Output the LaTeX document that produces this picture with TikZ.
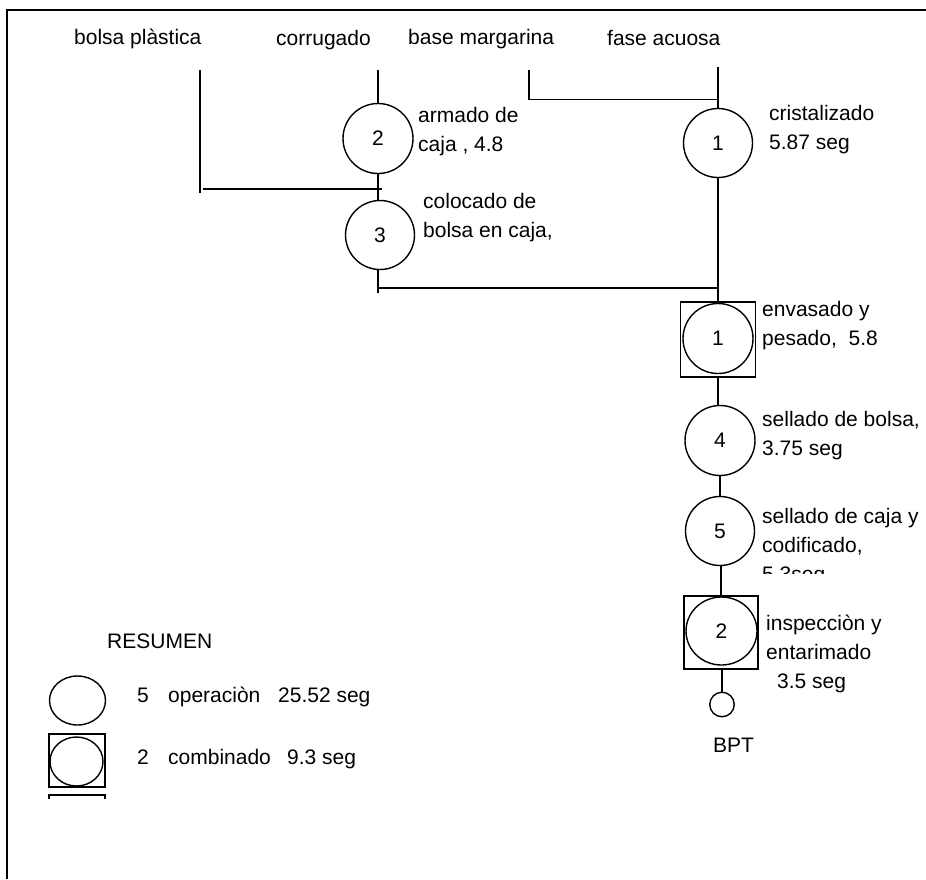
\documentclass[tikz,border=0pt]{standalone}
\usepackage{fontspec}
\setmainfont{Liberation Sans}
\usetikzlibrary{shapes.geometric}
\begin{document}
\begin{tikzpicture}[x=1pt,y=-1pt,
  txt/.style={font=\fontsize{21}{29}\selectfont, inner sep=0pt, align=left},
  lbl/.style={txt, anchor=base west},
  op/.style={circle, draw, line width=1.4pt, minimum size=70pt, inner sep=0pt, font=\fontsize{21}{25}\selectfont},
  sqbox/.style={rectangle, draw, line width=1.4pt, minimum size=75pt, inner sep=0pt},
  conn/.style={line width=1.6pt},
  frame/.style={line width=1.4pt}]
\useasboundingbox (0,0) rectangle (926,879);
\draw[frame] (926,10) -- (7,10) -- (7,879);

% top labels
\node[lbl] (tbolsa) at (74,44) {bolsa plàstica};
\node[lbl] (tcorr) at (276,45) {corrugado};
\node[lbl] (tbase) at (408,44) {base margarina};
\node[lbl] (tfase) at (607,45) {fase acuosa};

% left chain
\node[op] (c2) at (378,138.5) {2};
\node[op, minimum size=69pt] (c3) at (380,235) {3};
\coordinate (corrtop) at (378,70);
\coordinate (bolsatop) at (200,70);
\coordinate (bolsabot) at (200,193);
\coordinate (bolsaH) at (203,189);
\coordinate (bolsaHend) at (382,189);
\coordinate (c3bot) at (378,293);
\coordinate (joinL) at (378,288);

% right chain
\node[op, minimum size=69pt] (c1) at (718,143) {1};
\node[sqbox] (s1) at (718,339.5) {};
\node[op] (s1c) at (718,338.5) {1};
\node[op] (c4) at (720,440.5) {4};
\node[op, minimum size=69pt] (c5) at (720,531) {5};
\node[sqbox, minimum width=74pt, minimum height=73pt] (s2) at (721,632.5) {};
\node[op, ellipse, minimum width=71pt, minimum height=68pt] (s2c) at (721.5,631) {2};
\node[circle, draw, line width=1.4pt, minimum size=24.5pt, inner sep=0pt] (bpt) at (722,704.5) {};
\coordinate (fasetop) at (718,67);
\coordinate (basetop) at (529,70);
\coordinate (baseH) at (529,99.5);
\coordinate (joinR) at (718,288);

% connectors
\draw[conn] (bolsatop) -- (bolsabot);
\draw[conn] (bolsaH) -- (bolsaHend);
\draw[conn] (corrtop) -- (c2.north);
\draw[conn] (c2.south) -- (c2.south |- c3.north);
\draw[conn] (c3.south -| c2.south) -- (c3bot);
\draw[conn] (joinL) -- (joinR);
\draw[conn] (basetop) -- (baseH) -- (baseH -| fasetop);
\draw[conn] (fasetop) -- (c1.north);
\draw[conn] (c1.south) -- (s1.north);
\draw[conn] (s1.south) -- (s1.south |- c4.north);
\draw[conn] (c4.south) -- (c4.south |- c5.north);
\draw[conn] (c5.south -| s2.north) -- (s2.north);
\draw[conn] (s2.south -| bpt.north) -- (bpt.north);

% step labels (anchor = baseline of last line)
\node[lbl] (l2) at (418,151) {armado de\\caja , 4.8};
\node[lbl] (l3) at (423,237) {colocado de\\bolsa en caja,};
\node[lbl] (l1) at (769,149) {cristalizado\\5.87 seg};
\node[lbl] (ls1) at (762,345) {envasado y\\pesado,\ \ 5.8};
\node[lbl] (l4) at (762,455) {sellado de bolsa,\\3.75 seg};
\begin{scope}
\clip (750,490) rectangle (926,573);
\node[lbl] (l5) at (762,581) {sellado de caja y\\codificado,\\5.3seg};
\end{scope}
\node[lbl] (ls2) at (766,688) {inspecciòn y\\entarimado\\\hspace*{11pt}3.5 seg};
\node[lbl] (lbpt) at (713,752) {BPT};

% summary
\node[lbl] (res) at (107,648) {RESUMEN};
\node[ellipse, draw, line width=1.4pt, minimum width=56pt, minimum height=49pt, inner sep=0pt] (legop) at (77.5,700.5) {};
\node[lbl] (legoptxt) at (137,702) {\makebox[31pt][l]{5}\makebox[110pt][l]{operaciòn}25.52 seg};
\node[rectangle, draw, line width=1.4pt, minimum width=56pt, minimum height=53pt, inner sep=0pt] (legsq) at (77,760.5) {};
\node[ellipse, draw, line width=1.4pt, minimum width=53pt, minimum height=49pt, inner sep=0pt] (legsqc) at (76.5,761.5) {};
\node[lbl] (legsqtxt) at (137,764) {\makebox[31pt][l]{2}\makebox[119pt][l]{combinado}9.3 seg};
\begin{scope}
\clip (40,793) rectangle (115,798.5);
\draw[line width=1.4pt] (49,808) rectangle (105,795);
\end{scope}
\end{tikzpicture}
\end{document}
